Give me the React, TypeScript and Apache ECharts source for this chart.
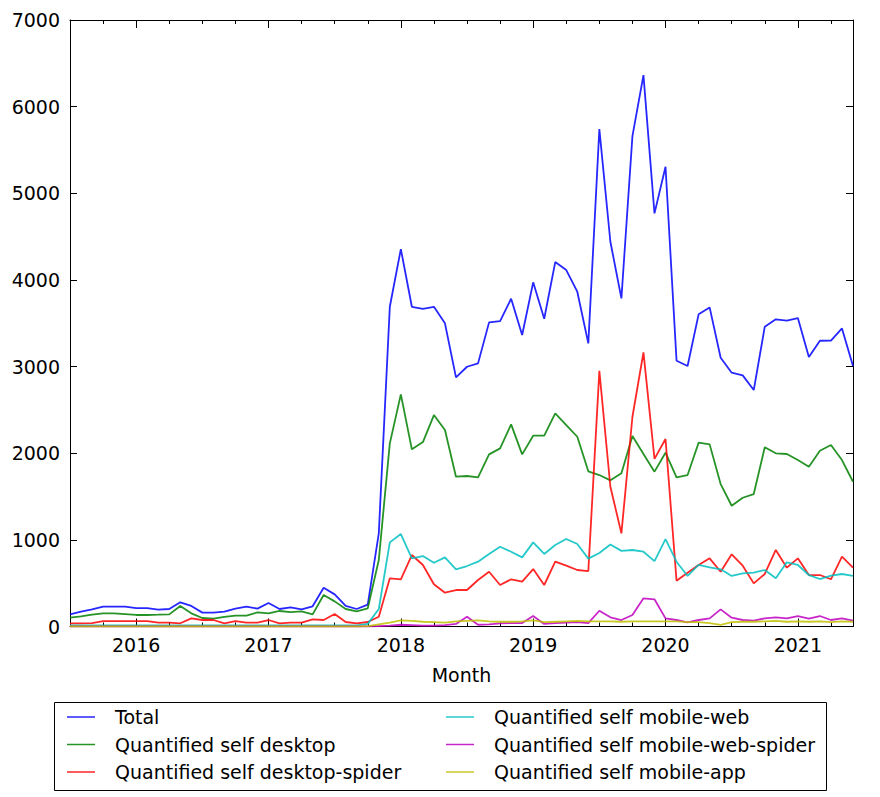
import React, { useEffect, useRef } from "react";
import * as echarts from "echarts";

// Months 2015-07 .. 2021-06
const months: string[] = [];
for (let k = 0; k < 72; k++) {
  const y = 2015 + Math.floor((6 + k) / 12);
  const m = ((6 + k) % 12) + 1;
  months.push(`${y}-${String(m).padStart(2, "0")}`);
}

const total = [
  140, 171, 198, 229, 229, 229, 213, 213, 194, 202, 279, 237,
  160, 160, 171, 206, 229, 206, 271, 202, 221, 198, 233, 448,
  371, 237, 202, 252, 1075, 3690, 4356, 3690, 3667, 3690, 3499, 2876,
  2998, 3037, 3510, 3525, 3783, 3364, 3972, 3552, 4206, 4114, 3864, 3268,
  5741, 4441, 3787, 5660, 6364, 4768, 5306, 3067, 3006, 3603, 3683, 3102,
  2929, 2898, 2729, 3460, 3545, 3530, 3560, 3110, 3298, 3300, 3440, 3006,
];

const desktop = [
  102, 117, 136, 152, 152, 144, 133, 133, 136, 140, 237, 152,
  98, 90, 110, 125, 125, 163, 152, 179, 167, 175, 140, 363,
  290, 202, 175, 210, 767, 2114, 2679, 2045, 2129, 2440, 2267, 1729,
  1737, 1722, 1987, 2056, 2333, 1987, 2202, 2202, 2460, 2325, 2190, 1791,
  1748, 1687, 1768, 2198, 1990, 1787, 2006, 1722, 1748, 2121, 2102, 1644,
  1394, 1486, 1529, 2068, 1999, 1991, 1921, 1844, 2029, 2094, 1921, 1671,
];

const desktopSpider = [
  37, 37, 40, 63, 63, 63, 63, 63, 44, 44, 37, 94,
  75, 75, 37, 63, 44, 44, 75, 37, 44, 44, 82, 75,
  144, 52, 37, 52, 113, 556, 545, 825, 710, 487, 390, 421,
  421, 537, 632, 479, 545, 517, 663, 479, 748, 702, 652, 640,
  2950, 1613, 1075, 2421, 3164, 1935, 2164, 529, 621, 710, 787, 632,
  833, 702, 498, 606, 883, 679, 787, 594, 594, 545, 806, 679,
];

const mobileWeb = [
  12, 12, 12, 12, 12, 12, 12, 12, 12, 12, 12, 12,
  12, 12, 12, 12, 12, 12, 12, 12, 12, 12, 12, 12,
  12, 12, 12, 30, 202, 971, 1067, 787, 813, 736, 798, 660,
  698, 748, 837, 921, 863, 798, 971, 837, 940, 1010, 952, 783,
  848, 946, 873, 883, 863, 754, 1008, 748, 583, 710, 683, 660,
  583, 614, 621, 652, 556, 741, 710, 594, 548, 586, 606, 583,
];

const mobileWebSpider = [
  0, 0, 0, 0, 0, 0, 0, 0, 0, 0, 0, 0,
  0, 0, 0, 0, 0, 0, 0, 0, 0, 0, 0, 0,
  0, 0, 0, 0, 5, 10, 20, 15, 10, 10, 15, 30,
  113, 20, 25, 35, 40, 40, 121, 30, 40, 45, 50, 40,
  182, 106, 75, 133, 325, 314, 94, 75, 48, 75, 94, 198,
  102, 75, 67, 94, 106, 94, 121, 90, 121, 75, 94, 67,
];

const mobileApp = [
  0, 0, 0, 0, 0, 0, 0, 0, 0, 0, 0, 0,
  0, 0, 0, 0, 0, 0, 0, 0, 0, 0, 0, 0,
  0, 0, 0, 5, 25, 45, 70, 65, 55, 50, 45, 60,
  65, 70, 60, 55, 55, 60, 70, 50, 55, 60, 65, 60,
  60, 60, 55, 60, 60, 60, 60, 60, 50, 50, 40, 20,
  50, 55, 55, 60, 65, 55, 60, 55, 60, 50, 60, 55,
];

const seriesNames = [
  "Total",
  "Quantified self desktop",
  "Quantified self desktop-spider",
  "Quantified self mobile-web",
  "Quantified self mobile-web-spider",
  "Quantified self mobile-app",
];
const seriesColors = ["#0000ff", "#008000", "#ff0000", "#00bfbf", "#bf00bf", "#bfbf00"];
const seriesData = [total, desktop, desktopSpider, mobileWeb, mobileWebSpider, mobileApp];

const yTicks = { min: 0, max: 7000, interval: 1000 };

const FONT = "DejaVu Sans";
const AXIS_COLOR = "#000";

export default function App() {
  const ref = useRef<HTMLDivElement>(null);
  useEffect(() => {
    if (!ref.current) return;
    const chart = echarts.init(ref.current, undefined, { renderer: "svg" });
    const isYear = (i: number) => i % 12 === 6;
    const isQuarter = (i: number) => i % 3 === 0;
    const baseX = {
      type: "category",
      data: months,
      boundaryGap: false,
      splitLine: { show: false },
    };
    const legendCommon = {
      orient: "vertical",
      top: 707,
      padding: 0,
      itemGap: 7.5,
      icon: "rect",
      itemWidth: 28,
      itemHeight: 1.5,
      textStyle: { fontSize: 19, color: "#000", fontFamily: FONT, lineHeight: 20, padding: [0, 0, 0, 15] },
    };
    const option: any = {
      animation: false,
      backgroundColor: "#fff",
      textStyle: { fontFamily: FONT },
      grid: { left: 70, top: 20, right: 27, bottom: 170.5, containLabel: false },
      xAxis: [
        {
          ...baseX,
          position: "bottom",
          axisLine: { show: true, lineStyle: { color: AXIS_COLOR, width: 1 } },
          axisTick: { show: true, inside: true, length: 8, interval: (i: number) => isYear(i), lineStyle: { color: AXIS_COLOR } },
          axisLabel: {
            show: true,
            interval: (i: number) => isYear(i),
            formatter: (v: string) => v.slice(0, 4),
            fontSize: 19,
            color: "#000",
            fontFamily: FONT,
            margin: 9,
          },
          name: "Month",
          nameLocation: "middle",
          nameGap: 39,
          nameTextStyle: { fontSize: 19, color: "#000", fontFamily: FONT },
        },
        {
          ...baseX,
          position: "bottom",
          axisLine: { show: false },
          axisTick: { show: true, inside: true, length: 4, interval: (i: number) => isQuarter(i), lineStyle: { color: AXIS_COLOR } },
          axisLabel: { show: false },
        },
        {
          ...baseX,
          position: "top",
          axisLine: { show: true, lineStyle: { color: AXIS_COLOR, width: 1 } },
          axisTick: { show: true, inside: true, length: 8, interval: (i: number) => isYear(i), lineStyle: { color: AXIS_COLOR } },
          axisLabel: { show: false },
        },
        {
          ...baseX,
          position: "top",
          axisLine: { show: false },
          axisTick: { show: true, inside: true, length: 4, interval: (i: number) => isQuarter(i), lineStyle: { color: AXIS_COLOR } },
          axisLabel: { show: false },
        },
      ],
      yAxis: [
        {
          type: "value",
          ...yTicks,
          position: "left",
          axisLine: { show: true, lineStyle: { color: AXIS_COLOR, width: 1 } },
          axisTick: { show: true, inside: true, length: 7, lineStyle: { color: AXIS_COLOR } },
          axisLabel: { fontSize: 19, color: "#000", fontFamily: FONT, margin: 10, formatter: (v: number) => String(v) },
          splitLine: { show: false },
        },
        {
          type: "value",
          ...yTicks,
          position: "right",
          axisLine: { show: true, lineStyle: { color: AXIS_COLOR, width: 1 } },
          axisTick: { show: true, inside: true, length: 7, lineStyle: { color: AXIS_COLOR } },
          axisLabel: { show: false },
          splitLine: { show: false },
        },
      ],
      legend: [
        { ...legendCommon, data: seriesNames.slice(0, 3), left: 67 },
        { ...legendCommon, data: seriesNames.slice(3), left: 446 },
      ],
      graphic: [
        {
          type: "rect",
          shape: { x: 54.5, y: 702.5, width: 772, height: 88 },
          style: { fill: "none", stroke: "#000", lineWidth: 1 },
          silent: true,
        },
      ],
      series: seriesNames.map((name, k) => ({
        name,
        type: "line",
        xAxisIndex: 0,
        yAxisIndex: 0,
        data: seriesData[k],
        symbol: "none",
        showSymbol: false,
        color: seriesColors[k],
        itemStyle: { color: seriesColors[k], opacity: 0.85 },
        lineStyle: { color: seriesColors[k], width: 1.8, opacity: 0.85 },
      })),
    };
    chart.setOption(option);
    return () => chart.dispose();
  }, []);
  return (
    <div
      ref={ref}
      style={{ position: "fixed", left: 0, top: 0, width: 880, height: 797, background: "#fff" }}
    />
  );
}
